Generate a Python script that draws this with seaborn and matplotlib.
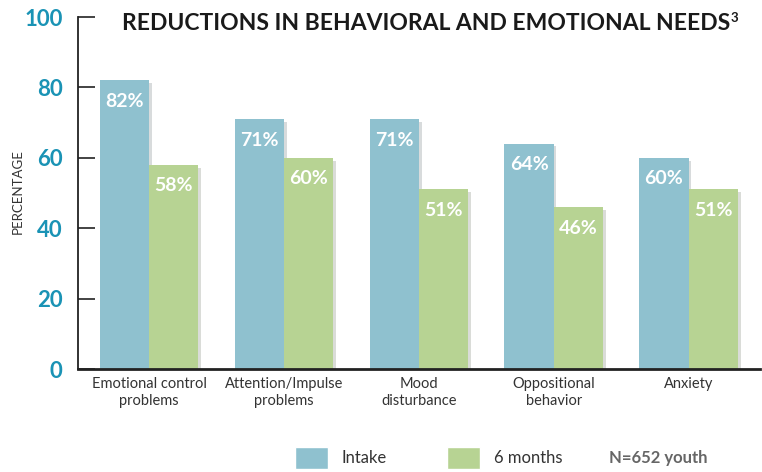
import matplotlib
matplotlib.use("Agg")
import matplotlib.pyplot as plt
import matplotlib.patheffects as pe
import pandas as pd
import seaborn as sns

# data
categories = ["Emotional control\nproblems", "Attention/Impulse\nproblems", "Mood\ndisturbance",
              "Oppositional\nbehavior", "Anxiety"]
intake = [82, 71, 71, 64, 60]
six_months = [58, 60, 51, 46, 51]
series = ["Intake", "6 months"]
colors = ["#8FC1CF", "#B7D393"]

df = pd.DataFrame({
    "category": categories * 2,
    "value": intake + six_months,
    "period": [series[0]] * len(categories) + [series[1]] * len(categories),
})

sns.set_style("white")
plt.rcParams["font.family"] = ["Lato", "DejaVu Sans"]

fig = plt.figure(figsize=(7.62, 4.72), dpi=100)
ax = fig.add_axes([78 / 762, 1 - 369 / 472, (760 - 78) / 762, (369 - 17) / 472])

sns.barplot(data=df, x="category", y="value", hue="period", palette=colors,
            width=0.73, gap=0, saturation=1, legend=False, ax=ax)

shadow = [pe.SimplePatchShadow(offset=(2, -2), alpha=0.18), pe.Normal()]
for patch in ax.patches:
    patch.set_path_effects(shadow)
    patch.set_edgecolor("none")

for cont in ax.containers:
    texts = ax.bar_label(cont, labels=[f"{v:.0f}%" for v in cont.datavalues],
                         padding=-9, color="white", fontsize=14, fontweight="bold")
    for t in texts:
        t.set_va("top")

ax.set_ylim(0, 100)
ax.set_xlim(-0.527, 4.53)
ax.set_yticks([0, 20, 40, 60, 80, 100])
ax.set_xlabel("")
ax.set_ylabel("")
ax.tick_params(axis="y", left=True, direction="in", length=12, width=1.2, color="#222", pad=11,
               labelsize=16, labelcolor="#1A93B5")
for lab in ax.get_yticklabels():
    lab.set_fontweight("bold")
ax.tick_params(axis="x", length=0, pad=6, labelsize=10.5, labelcolor="#333")

for side in ["top", "right"]:
    ax.spines[side].set_visible(False)
ax.spines["left"].set_linewidth(1.3)
ax.spines["left"].set_color("#222")
ax.spines["bottom"].set_linewidth(2)
ax.spines["bottom"].set_color("#222")

title = fig.text(122 / 762, 1 - 24 / 472, "REDUCTIONS IN BEHAVIORAL AND EMOTIONAL NEEDS",
                 ha="left", va="center", fontsize=16.5, fontweight="bold", color="#1a1a1a")
fig.canvas.draw()
x_end = title.get_window_extent().x1 / fig.bbox.width
fig.text(x_end + 0.0005, 1 - 18 / 472, "3", ha="left", va="center",
         fontsize=9.5, fontweight="bold", color="#1a1a1a")
fig.text(18 / 762, 1 - 192 / 472, "PERCENTAGE", rotation=90, ha="center", va="center",
         fontsize=9.5, color="#333")

handles = [plt.Rectangle((0, 0), 1, 1, facecolor=c) for c in colors]
fig.legend(handles, series, loc="center left", bbox_to_anchor=(295 / 762, 1 - 458 / 472),
           ncol=2, frameon=False, fontsize=12, handlelength=2.0, handleheight=1.7,
           handletextpad=0.8, columnspacing=3.6, borderpad=0, borderaxespad=0,
           labelcolor="#333")
fig.text(609 / 762, 1 - 458 / 472, "N=652 youth", ha="left", va="center",
         fontsize=12, fontweight="bold", color="#666")

fig.savefig("out.png", dpi=100)
